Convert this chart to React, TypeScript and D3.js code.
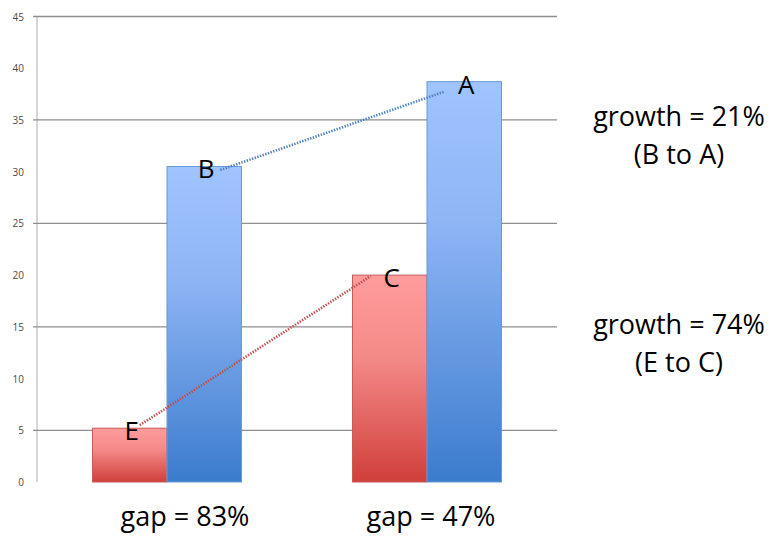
import React from "react";
import * as d3 from "d3";

const categories = ["Period 1", "Period 2"];
const seriesNames = ["red", "blue"];
const redValues = [5.2, 20.0];
const blueValues = [30.5, 38.7];
const redLetters = ["E", "C"];
const blueLetters = ["B", "A"];
const yTicks = [0, 5, 10, 15, 20, 25, 30, 35, 40, 45];
const gridValues = [5, 15, 25, 35, 45];
const gapLabels = ["gap = 83%", "gap = 47%"];
const growthLines = [
  ["growth = 21%", "(B to A)"],
  ["growth = 74%", "(E to C)"],
];

const W = 774;
const H = 539;
const FONT = "'Open Sans', 'Liberation Sans', sans-serif";

export default function App() {
  const x0 = d3
    .scaleBand<string>()
    .domain(categories)
    .range([37, 557])
    .paddingInner(0.427)
    .paddingOuter(0.2135);
  const x1 = d3.scaleBand<string>().domain(seriesNames).range([0, x0.bandwidth()]);
  const y = d3.scaleLinear().domain([0, 45]).range([482, 16.5]);

  const series = [
    { key: "red", values: redValues, letters: redLetters, fill: "url(#gRed)", stroke: "#c85a57" },
    { key: "blue", values: blueValues, letters: blueLetters, fill: "url(#gBlue)", stroke: "#6b98d6" },
  ];

  const cx = (cat: string, s: string) => (x0(cat) as number) + (x1(s) as number) + x1.bandwidth() / 2;

  const pB = { x: cx(categories[0], "blue"), y: y(blueValues[0]) };
  const pA = { x: cx(categories[1], "blue"), y: y(blueValues[1]) };
  const pE = { x: cx(categories[0], "red"), y: y(redValues[0]) };
  const pC = { x: cx(categories[1], "red"), y: y(redValues[1]) };

  return (
    <svg width={W} height={H} style={{ position: "absolute", left: 0, top: 0, background: "#fff" }}>
      <defs>
        <linearGradient id="gRed" x1="0" y1="0" x2="0" y2="1">
          <stop offset="0%" stopColor="#ff9c9c" />
          <stop offset="40%" stopColor="#f48a88" />
          <stop offset="100%" stopColor="#d03f3b" />
        </linearGradient>
        <linearGradient id="gBlue" x1="0" y1="0" x2="0" y2="1">
          <stop offset="0%" stopColor="#9fc4ff" />
          <stop offset="35%" stopColor="#8fb5f5" />
          <stop offset="100%" stopColor="#3b7ccd" />
        </linearGradient>
      </defs>

      {/* vertical axis */}
      <line x1={37} x2={37} y1={y(45)} y2={y(0)} stroke="#d6d6d6" strokeWidth={2} />

      {/* gridlines */}
      {gridValues.map((v) => (
        <line key={v} x1={33} x2={557} y1={y(v)} y2={y(v)} stroke="#8e8e8e" strokeWidth={1.3} />
      ))}

      {/* tick labels */}
      {yTicks.map((v) => (
        <text
          key={v}
          x={24}
          y={y(v)}
          textAnchor="end"
          dominantBaseline="central"
          fontFamily={FONT}
          fontSize={10}
          fill="#4a4a4a"
        >
          {v}
        </text>
      ))}

      {/* bars */}
      {series.map((s) =>
        categories.map((c, i) => (
          <rect
            key={s.key + c}
            x={(x0(c) as number) + (x1(s.key) as number)}
            y={y(s.values[i])}
            width={x1.bandwidth()}
            height={y(0) - y(s.values[i])}
            fill={s.fill}
            stroke={s.stroke}
            strokeWidth={1}
          />
        ))
      )}

      {/* dotted connectors */}
      <line
        x1={pB.x + 16}
        y1={pB.y + 3.5}
        x2={pA.x - 20}
        y2={pA.y + 10}
        stroke="#4f81bd"
        strokeWidth={2.6}
        strokeDasharray="1.4 1.4"
      />
      <line
        x1={pE.x + 10}
        y1={pE.y - 3}
        x2={pC.x - 19}
        y2={pC.y + 1}
        stroke="#c0504d"
        strokeWidth={2.6}
        strokeDasharray="1.4 1.4"
      />

      {/* point letters */}
      {series.map((s) =>
        categories.map((c, i) => (
          <text
            key={"l" + s.key + c}
            x={cx(c, s.key) + 2}
            y={y(s.values[i]) + 2}
            textAnchor="middle"
            dominantBaseline="central"
            fontFamily={FONT}
            fontSize={26}
            fill="#000"
          >
            {s.letters[i]}
          </text>
        ))
      )}

      {/* gap labels */}
      {gapLabels.map((g, i) => (
        <text
          key={g}
          x={i === 0 ? 185 : 431}
          y={526}
          textAnchor="middle"
          fontFamily={FONT}
          fontSize={27}
          fill="#000"
        >
          {g}
        </text>
      ))}

      {/* growth labels */}
      {growthLines.map((pair, i) => (
        <text key={i} textAnchor="middle" fontFamily={FONT} fontSize={27} fill="#000">
          <tspan x={679} y={i === 0 ? 126 : 334}>
            {pair[0]}
          </tspan>
          <tspan x={679} y={i === 0 ? 164 : 372}>
            {pair[1]}
          </tspan>
        </text>
      ))}
    </svg>
  );
}
